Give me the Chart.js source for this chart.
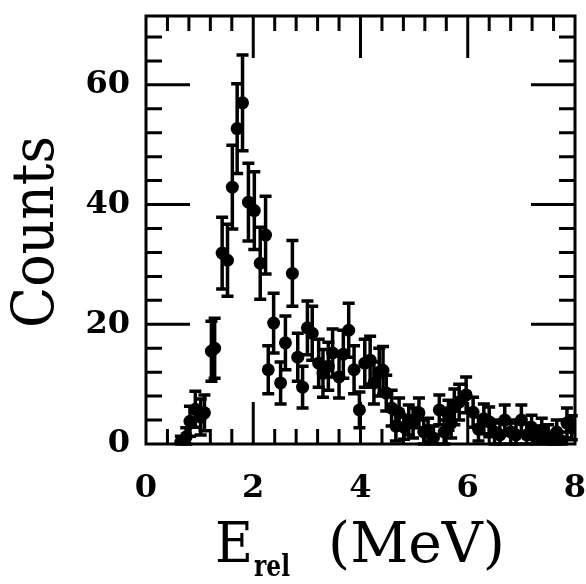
<!DOCTYPE html>
<html>
<head>
<meta charset="utf-8">
<script src="https://cdn.jsdelivr.net/npm/chart.js@4.4.1/dist/chart.umd.min.js"></script>
<style>
    body { margin: 0; background: #fff; }
    canvas { display: block; }
</style>
</head>
<body>
<canvas id="spectrumChart" width="586" height="584"></canvas>
<script>
// E_rel (MeV) of each point, counts and the +- error
const xValues = [0.65, 0.75, 0.82, 0.92, 1.02, 1.09, 1.22, 1.28, 1.42, 1.52, 1.61, 1.70, 1.80, 1.91, 2.02, 2.13,
    2.23, 2.28, 2.38, 2.51, 2.60, 2.73, 2.83, 2.92, 3.01, 3.10, 3.22, 3.30, 3.40, 3.48, 3.60, 3.68,
    3.78, 3.88, 3.98, 4.08, 4.18, 4.25, 4.35, 4.42, 4.48, 4.58, 4.66, 4.72, 4.81, 4.90, 4.98, 5.09,
    5.18, 5.26, 5.36, 5.47, 5.56, 5.64, 5.69, 5.75, 5.84, 5.97, 6.10, 6.20, 6.30, 6.40, 6.50, 6.60,
    6.69, 6.80, 6.90, 7.00, 7.10, 7.19, 7.28, 7.38, 7.50, 7.58, 7.66, 7.75, 7.85, 7.94];
const yValues = [0.3, 1.2, 3.8, 5.8, 4.5, 5.2, 15.5, 16.0, 31.9, 30.7, 42.9, 52.7, 57.0, 40.4, 39.0, 30.2,
    34.9, 12.4, 20.2, 10.2, 16.9, 28.5, 14.5, 9.5, 19.4, 18.5, 13.5, 11.8, 13.0, 15.2, 11.2, 15.0,
    19.0, 12.4, 5.7, 13.5, 14.0, 10.2, 12.0, 12.3, 8.5, 6.0, 3.0, 5.2, 2.8, 4.0, 3.5, 5.2,
    2.0, 2.3, 1.0, 5.7, 2.0, 4.8, 3.5, 6.2, 7.0, 8.2, 5.3, 2.5, 4.2, 3.7, 2.0, 1.5,
    4.0, 2.0, 1.5, 4.0, 1.5, 2.8, 1.0, 2.3, 1.2, 0.5, 2.0, 0.5, 3.5, 2.7];
const yErrors = [1.0, 1.5, 2.5, 3.0, 3.0, 3.0, 5.0, 5.0, 6.0, 6.0, 7.0, 7.5, 8.0, 6.5, 6.5, 6.0,
    6.5, 4.0, 5.0, 3.5, 4.5, 5.5, 4.0, 3.5, 4.5, 4.5, 4.0, 4.0, 4.0, 4.0, 3.5, 4.0,
    4.5, 4.0, 3.0, 4.0, 4.0, 3.5, 4.0, 4.0, 3.0, 3.0, 2.5, 2.5, 2.0, 2.5, 2.5, 2.5,
    2.0, 2.0, 2.0, 2.5, 2.0, 2.5, 2.5, 3.0, 3.0, 3.0, 2.5, 2.0, 2.5, 2.5, 2.0, 2.0,
    2.5, 2.0, 2.0, 2.5, 2.0, 2.0, 2.0, 2.0, 2.0, 1.5, 2.0, 1.5, 2.5, 2.0];

const xTicks = [0, 2, 4, 6, 8];
const yTicks = [0, 20, 40, 60];

const tickFont = { family: 'DejaVu Serif', weight: 'bold', size: 32 };

// draws text squeezed / stretched to a given width
function fitText(ctx, text, x, y, width) {
    let w = ctx.measureText(text).width;
    ctx.save();
    ctx.translate(x, y);
    ctx.scale(width / w, 1);
    ctx.fillText(text, 0, 0);
    ctx.restore();
}

const errorBars = {
    id: 'errorBars',
    beforeDatasetsDraw(chart) {
        let ctx = chart.ctx;
        let xs = chart.scales.x, ys = chart.scales.y;
        ctx.save();
        ctx.strokeStyle = '#000';
        ctx.lineWidth = 3.5;
        for (let i = 0; i < xValues.length; i++) {
            let px = xs.getPixelForValue(xValues[i]);
            let top = ys.getPixelForValue(yValues[i] + yErrors[i]);
            let bot = ys.getPixelForValue(Math.max(0, yValues[i] - yErrors[i]));
            ctx.beginPath();
            ctx.moveTo(px, top); ctx.lineTo(px, bot);
            ctx.moveTo(px - 6, top); ctx.lineTo(px + 6, top);
            ctx.moveTo(px - 6, bot); ctx.lineTo(px + 6, bot);
            ctx.stroke();
        }
        ctx.restore();
    }
};

const frame = {
    id: 'frame',
    afterDraw(chart) {
        let ctx = chart.ctx;
        let a = chart.chartArea;
        let xs = chart.scales.x, ys = chart.scales.y;
        ctx.save();
        ctx.strokeStyle = '#000';
        ctx.lineWidth = 3;
        ctx.strokeRect(a.left, a.top, a.right - a.left, a.bottom - a.top);

        // ticks on all four sides, pointing inwards
        ctx.beginPath();
        for (let v = 0.4; v < 8; v += 0.4) {
            let px = xs.getPixelForValue(v);
            let len = Math.abs(v / 2 - Math.round(v / 2)) < 0.01 ? 42 : 15;
            ctx.moveTo(px, a.bottom); ctx.lineTo(px, a.bottom - len);
            ctx.moveTo(px, a.top); ctx.lineTo(px, a.top + len);
        }
        for (let v = 4; v < 71.5; v += 4) {
            let py = ys.getPixelForValue(v);
            let len = v % 20 === 0 ? 44 : 16;
            ctx.moveTo(a.left, py); ctx.lineTo(a.left + len, py);
            ctx.moveTo(a.right, py); ctx.lineTo(a.right - len, py);
        }
        ctx.stroke();

        // axis titles
        ctx.fillStyle = '#000';
        ctx.textAlign = 'left';
        ctx.textBaseline = 'alphabetic';
        ctx.font = '58px "DejaVu Serif"';
        ctx.save();
        ctx.translate(53, 328);
        ctx.rotate(-Math.PI / 2);
        fitText(ctx, 'Counts', 0, 0, 192);
        ctx.restore();

        ctx.font = '56px "DejaVu Serif"';
        fitText(ctx, 'E', 215, 562, 38);
        fitText(ctx, '(MeV)', 328, 562, 177);
        ctx.font = 'bold 30px "DejaVu Serif"';
        fitText(ctx, 'rel', 254, 576, 36);
        ctx.restore();
    }
};

let ctx = document.getElementById('spectrumChart').getContext('2d');
let points = xValues.map((x, i) => ({ x: x, y: yValues[i] }));

let spectrumChart = new Chart(ctx, {
    type: 'scatter',
    data: {
        datasets: [{
            data: points,
            pointRadius: 6.5,
            pointBackgroundColor: '#000',
            pointBorderColor: '#000',
            pointBorderWidth: 0
        }]
    },
    options: {
        responsive: false,
        animation: false,
        layout: { padding: { top: 16, right: 11, left: 0, bottom: 0 } },
        plugins: {
            legend: { display: false },
            tooltip: { enabled: false }
        },
        scales: {
            x: {
                type: 'linear',
                min: 0,
                max: 8,
                grid: { display: false, drawTicks: false },
                border: { display: false },
                afterBuildTicks: s => { s.ticks = xTicks.map(v => ({ value: v })); },
                afterFit: s => {
                    s.height = 140;
                    s.paddingLeft = 0;
                    s.paddingRight = 0;
                },
                ticks: { color: '#000', font: tickFont, padding: 25, maxRotation: 0, autoSkip: false }
            },
            y: {
                type: 'linear',
                min: 0,
                max: 71.5,
                grid: { display: false, drawTicks: false },
                border: { display: false },
                afterBuildTicks: s => { s.ticks = yTicks.map(v => ({ value: v })); },
                afterFit: s => {
                    s.width = 146;
                    s.paddingTop = 0;
                    s.paddingBottom = 0;
                },
                ticks: { color: '#000', font: tickFont, padding: 16, autoSkip: false }
            }
        }
    },
    plugins: [errorBars, frame]
});
</script>
</body>
</html>
